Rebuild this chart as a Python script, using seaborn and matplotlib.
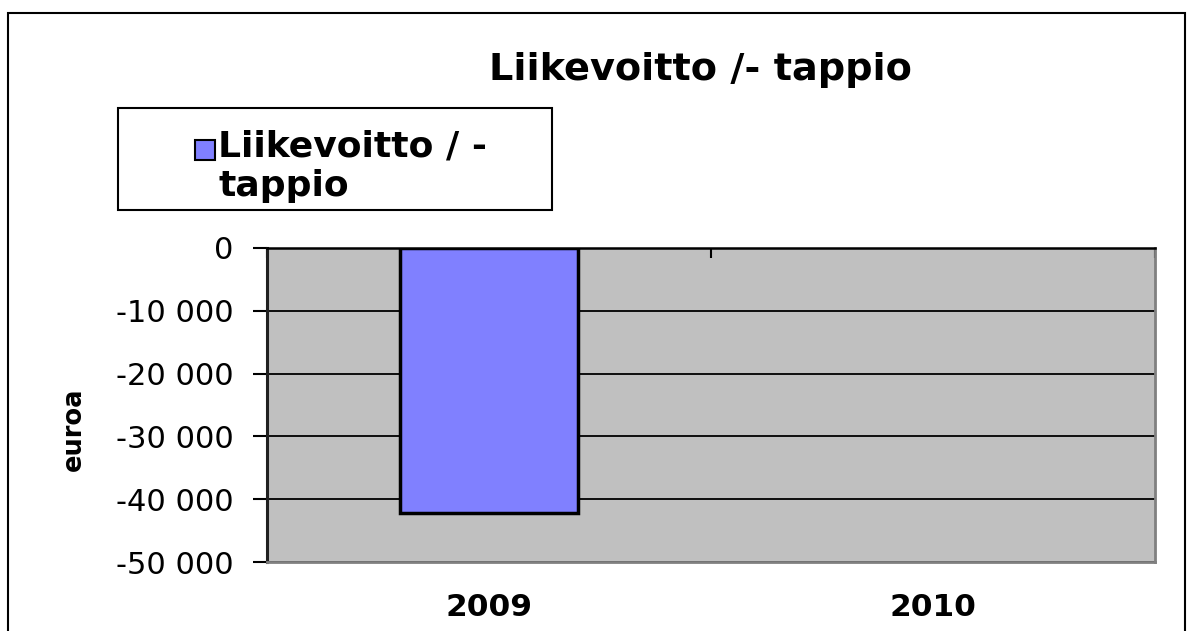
import numpy as np
import pandas as pd
import matplotlib
matplotlib.use("Agg")
import matplotlib.pyplot as plt
import seaborn as sns
from matplotlib.patches import Rectangle
from matplotlib.legend_handler import HandlerPatch
from matplotlib.ticker import FuncFormatter, FixedLocator

# Chart data
years = ["2009", "2010"]
values = [-42200, np.nan]   # no bar for 2010
series_name = "Liikevoitto / -\ntappio"
title = "Liikevoitto /- tappio"
y_label = "euroa"
y_ticks = [0, -10000, -20000, -30000, -40000, -50000]

sns.set_theme(style="white")
plt.rcParams['font.family'] = ['DejaVu Sans']
plt.rcParams.update({"text.color": "black", "axes.labelcolor": "black",
                     "xtick.color": "black", "ytick.color": "black"})

df = pd.DataFrame({"year": years, "value": values})

W, H = 1195, 631
fig = plt.figure(figsize=(W / 100, H / 100), dpi=100)
ax = fig.add_axes([267 / W, 1 - 562 / H, 888 / W, 314 / H])
ax.set_facecolor("#C0C0C0")

sns.barplot(data=df, x="year", y="value", order=years, color="#8080FF",
            width=0.4, edgecolor="black", linewidth=2.5, errorbar=None,
            saturation=1, ax=ax, zorder=3)

ax.set_xlim(-0.5, 1.5)
ax.set_ylim(min(y_ticks), max(y_ticks))

# y axis
ax.yaxis.set_major_locator(FixedLocator(y_ticks))
ax.yaxis.set_major_formatter(FuncFormatter(lambda v, p: f"{int(v):,}".replace(",", " ")))
ax.tick_params(axis="y", left=True, length=10, width=1.5, color="black",
               pad=14, labelsize=22, direction="out")
ax.yaxis.grid(True, color="black", linewidth=1.3)
ax.set_axisbelow(True)

# x axis: category boundary ticks on top, labels at bottom
ax.xaxis.set_major_locator(FixedLocator([-0.5, 0.5, 1.5]))
ax.xaxis.set_minor_locator(FixedLocator([0, 1]))
ax.set_xticklabels([], minor=False)
ax.set_xticklabels(years, minor=True, fontweight="bold")
ax.tick_params(axis="x", which="major", bottom=False, top=True, direction="in",
               length=7, width=1.5, color="black", labelbottom=False)
ax.tick_params(axis="x", which="minor", bottom=True, top=False, length=0,
               labelbottom=True, labelsize=22.5, pad=22)
ax.set_xlabel("")
ax.set_ylabel("")
fig.text(74 / W, 1 - 429 / H, y_label, rotation=90, ha="center", va="center",
         fontsize=18.5, fontweight="bold")

for side in ["right", "bottom"]:
    ax.spines[side].set_color("#808080")
    ax.spines[side].set_linewidth(2)
ax.spines["left"].set_color("#202020")
ax.spines["left"].set_linewidth(2.2)
ax.spines["top"].set_color("black")
ax.spines["top"].set_linewidth(1.8)


# legend: square sits beside the first line of the wrapped label
def top_square(legend, orig_handle, xdescent, ydescent, width, height, fontsize):
    s = 0.55 * fontsize
    return Rectangle((-xdescent, -ydescent + height - 0.16 * fontsize - s), s, s)


handle = Rectangle((0, 0), 1, 1, facecolor="#8080FF", edgecolor="black", linewidth=1.5)
leg = fig.legend(handles=[handle], labels=[series_name],
                 handler_map={Rectangle: HandlerPatch(patch_func=top_square)},
                 loc="upper left", bbox_to_anchor=(195 / W, 1 - 130 / H),
                 frameon=False, prop={"size": 26, "weight": "bold"},
                 handlelength=0.55, handleheight=2.6, handletextpad=0.1,
                 borderpad=0, borderaxespad=0)
fig.patches.append(Rectangle((118 / W, 1 - 210 / H), 434 / W, 102 / H,
                             transform=fig.transFigure, fill=False,
                             edgecolor="black", linewidth=1.5))

fig.text(700 / W, 1 - 70 / H, title, ha="center", va="center",
         fontsize=27.5, fontweight="bold")

# outer chart border
fig.patches.append(Rectangle((8 / W, -0.1), 1177 / W, 1.1 - 13 / H,
                             transform=fig.transFigure, fill=False,
                             edgecolor="black", linewidth=1.5))

fig.savefig("out.png", dpi=100)
